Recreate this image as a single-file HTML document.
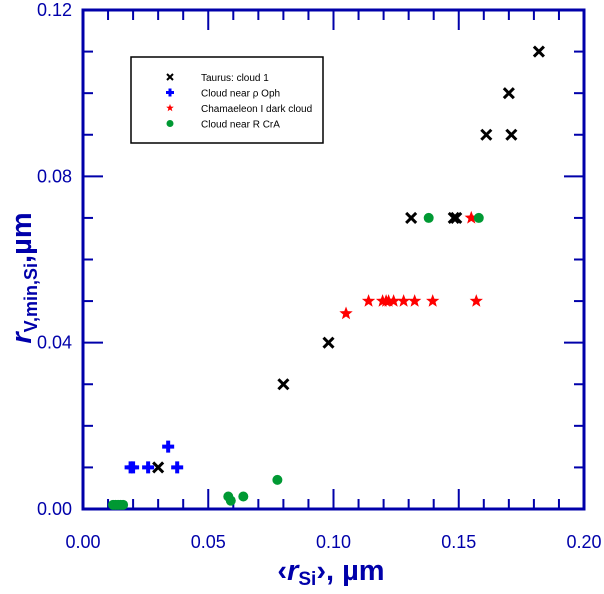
<!DOCTYPE html>
<html><head><meta charset="utf-8"><style>
body{margin:0;background:#fff;}
text{font-family:"Liberation Sans",sans-serif;}
</style></head><body>
<svg id="chart" width="604" height="589" xmlns="http://www.w3.org/2000/svg"></svg>
<script>
const xTicks=[0,0.05,0.10,0.15,0.20];
const xTickLabels=["0.00","0.05","0.10","0.15","0.20"];
const yTicks=[0,0.04,0.08,0.12];
const yTickLabels=["0.00","0.04","0.08","0.12"];
const taurusX=[0.030,0.080,0.098,0.131,0.148,0.149,0.161,0.170,0.171,0.182];
const taurusY=[0.010,0.030,0.040,0.070,0.070,0.070,0.090,0.100,0.090,0.110];
const ophX=[0.019,0.020,0.026,0.034,0.0376];
const ophY=[0.010,0.010,0.010,0.015,0.010];
const chamX=[0.105,0.114,0.1196,0.121,0.122,0.124,0.128,0.1324,0.1396,0.157,0.155];
const chamY=[0.047,0.050,0.050,0.050,0.050,0.050,0.050,0.050,0.050,0.050,0.070];
const crAX=[0.012,0.013,0.014,0.015,0.016,0.058,0.059,0.064,0.0776,0.138,0.158];
const crAY=[0.001,0.001,0.001,0.001,0.001,0.003,0.002,0.003,0.007,0.070,0.070];
const L=83,R=584,T=10,B=509;
const sx=v=>L+v/0.2*(R-L), sy=v=>B-v/0.12*(B-T);
const svg=document.getElementById('chart');
const NS='http://www.w3.org/2000/svg';
function mk(tag,attrs,parent){const e=document.createElementNS(NS,tag);for(const k in attrs)e.setAttribute(k,attrs[k]);(parent||svg).appendChild(e);return e;}
const blue='#0000aa';
const frame=mk('rect',{x:L,y:T,width:R-L,height:B-T,fill:'none',stroke:blue,'stroke-width':3});


for(let i=0;i<=20;i++){const v=i*0.01,x=sx(v),len=(i%5==0)?20:10;
 mk('line',{x1:x,y1:B,x2:x,y2:B-len,stroke:blue,'stroke-width':2});
 mk('line',{x1:x,y1:T,x2:x,y2:T+len,stroke:blue,'stroke-width':2});}
for(let i=0;i<=12;i++){const v=i*0.01,y=sy(v),len=(i%4==0)?20:10;
 mk('line',{x1:L,y1:y,x2:L+len,y2:y,stroke:blue,'stroke-width':2});
 mk('line',{x1:R,y1:y,x2:R-len,y2:y,stroke:blue,'stroke-width':2});}
xTicks.forEach((v,i)=>{const t=mk('text',{x:sx(v),y:548,'text-anchor':'middle','font-size':18,fill:blue});t.textContent=xTickLabels[i];
 
 });
yTicks.forEach((v,i)=>{const t=mk('text',{x:72,y:sy(v)+6,'text-anchor':'end','font-size':18,fill:blue});t.textContent=yTickLabels[i];
 
 });
const xt=mk('text',{x:331,y:580,'text-anchor':'middle','font-size':29,'font-weight':'bold',fill:blue});
xt.innerHTML='‹<tspan font-style="italic">r</tspan><tspan font-size="19" dy="5">Si</tspan><tspan dy="-5">›, µm</tspan>';


const yt=mk('text',{x:0,y:0,'text-anchor':'middle','font-size':29,'font-weight':'bold',fill:blue,transform:'translate(31,278) rotate(-90)'});
yt.innerHTML='<tspan font-style="italic">r</tspan><tspan font-size="18" dy="6">V,min,Si</tspan><tspan dy="-6">,µm</tspan>';


function cross(x,y,g){mk('path',{d:`M${x-5},${y-5}L${x+5},${y+5}M${x-5},${y+5}L${x+5},${y-5}`,stroke:'#000','stroke-width':3},g);}
function plus(x,y,g){mk('path',{d:`M${x-6},${y}L${x+6},${y}M${x},${y-6}L${x},${y+6}`,stroke:'#0000ff','stroke-width':4},g);}
function star(x,y,g,r=7){let p='';for(let i=0;i<10;i++){const a=-Math.PI/2+i*Math.PI/5,rr=i%2?r*0.42:r;p+=(i?'L':'M')+(x+rr*Math.cos(a))+','+(y+rr*Math.sin(a));}mk('path',{d:p+'Z',fill:'#ff0000'},g);}
function dot(x,y,g){mk('circle',{cx:x,cy:y,r:5,fill:'#009933'},g);}
function series(name,xs,ys,f){const g=mk('g',{});xs.forEach((v,i)=>f(sx(v),sy(ys[i]),g));}
series('series-taurus',taurusX,taurusY,cross);
series('series-oph',ophX,ophY,plus);
series('series-chamaeleon',chamX,chamY,star);
series('series-cra',crAX,crAY,dot);
const lg=mk('g',{});


mk('rect',{x:131,y:57,width:192,height:86,fill:'#fff',stroke:'#000','stroke-width':1.5},lg);
const labs=['Taurus: cloud 1','Cloud near ρ Oph','Chamaeleon I dark cloud','Cloud near R CrA'];
const fns=[(x,y,g)=>{mk('path',{d:`M${x-3},${y-3}L${x+3},${y+3}M${x-3},${y+3}L${x+3},${y-3}`,stroke:'#000','stroke-width':2},g)},
 (x,y,g)=>{mk('path',{d:`M${x-4},${y}L${x+4},${y}M${x},${y-4}L${x},${y+4}`,stroke:'#0000ff','stroke-width':3},g)},
 (x,y,g)=>star(x,y,g,4),(x,y,g)=>mk('circle',{cx:x,cy:y,r:3.5,fill:'#009933'},g)];
labs.forEach((s,i)=>{const y=77+i*15.5;fns[i](170,y,lg);const t=mk('text',{x:201,y:y+4,'font-size':10,fill:'#000'},lg);t.textContent=s;
 
 });
</script>
</body></html>
